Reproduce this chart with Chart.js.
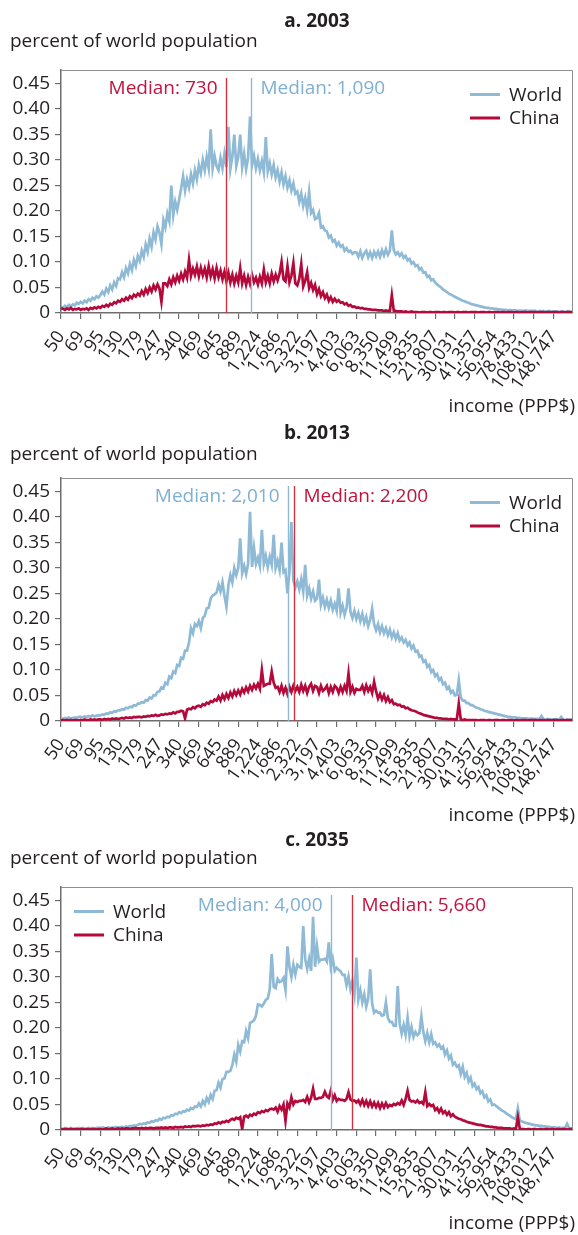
<!DOCTYPE html>
<html>
<head>
<meta charset="utf-8">
<title>Income distribution: World and China, 2003, 2013, 2035</title>
<script src="https://cdn.jsdelivr.net/npm/chart.js@4.4.1/dist/chart.umd.min.js"></script>
<style>
  html, body { margin: 0; padding: 0; background: #fff; }
  #page { position: relative; width: 578px; height: 1235px; overflow: hidden;
          font-family: 'Open Sans', sans-serif; color: #231f20; }
  .panel { position: absolute; left: 0; width: 578px; }
  .panel canvas { position: absolute; left: 0; top: 0; }
  .title { position: absolute; left: 61px; width: 512px; text-align: center;
           font-weight: 700; font-size: 19px; line-height: 20px; }
  .ylab { position: absolute; left: 10px; font-size: 19px; line-height: 20px; white-space: nowrap; }
  .xlab { position: absolute; right: 3px; font-size: 19px; line-height: 20px; white-space: nowrap; }
</style>
</head>
<body>
<div id="page"></div>
<script>
// Income axis labels (PPP$); ten bins per labelled interval
const incomeTicks = [50, 69, 95, 130, 179, 247, 340, 469, 645, 889, 1224, 1686, 2322, 3197,
  4403, 6063, 8350, 11499, 15835, 21807, 30031, 41357, 56954, 78433, 108012, 148747];
const shareTicks = [0, 0.05, 0.10, 0.15, 0.20, 0.25, 0.30, 0.35, 0.40, 0.45];

const panelTitles = ['a. 2003', 'b. 2013', 'c. 2035'];
const seriesNames = ['World', 'China'];

// Share of world population per income bin (one row per labelled interval), 2003
const world2003 = [
  0.012,0.010,0.014,0.011,0.016,0.013,0.017,0.015,0.020,0.018,
  0.022,0.019,0.024,0.021,0.027,0.024,0.030,0.027,0.033,0.030,
  0.035,0.042,0.036,0.048,0.041,0.054,0.046,0.060,0.053,0.068,
  0.066,0.080,0.070,0.088,0.078,0.096,0.084,0.104,0.092,0.112,
  0.102,0.122,0.110,0.134,0.120,0.146,0.130,0.158,0.144,0.170,
  0.158,0.135,0.182,0.168,0.195,0.180,0.250,0.192,0.218,0.202,
  0.222,0.244,0.268,0.240,0.262,0.246,0.272,0.254,0.280,0.262,
  0.290,0.274,0.300,0.280,0.306,0.284,0.360,0.284,0.308,0.288,
  0.280,0.304,0.284,0.312,0.286,0.365,0.282,0.306,0.350,0.288,
  0.306,0.350,0.286,0.312,0.282,0.304,0.385,0.290,0.308,0.284,
  0.302,0.280,0.298,0.276,0.345,0.278,0.294,0.272,0.290,0.266,
  0.280,0.258,0.276,0.252,0.268,0.246,0.260,0.240,0.254,0.234,
  0.238,0.218,0.234,0.210,0.226,0.202,0.237,0.196,0.202,0.184,
  0.186,0.196,0.168,0.170,0.162,0.160,0.148,0.152,0.140,0.143,
  0.132,0.138,0.130,0.133,0.122,0.127,0.120,0.122,0.116,0.119,
  0.119,0.110,0.121,0.108,0.117,0.122,0.109,0.119,0.108,0.120,
  0.111,0.121,0.110,0.123,0.113,0.125,0.114,0.122,0.162,0.123,
  0.115,0.119,0.112,0.117,0.108,0.112,0.103,0.106,0.097,0.100,
  0.092,0.094,0.085,0.088,0.079,0.080,0.071,0.073,0.064,0.066,
  0.060,0.056,0.053,0.050,0.046,0.044,0.041,0.038,0.036,0.034,
  0.032,0.030,0.028,0.026,0.024,0.023,0.021,0.020,0.018,0.017,
  0.016,0.015,0.014,0.013,0.012,0.011,0.010,0.010,0.009,0.009,
  0.008,0.008,0.007,0.007,0.006,0.006,0.006,0.005,0.006,0.005,
  0.005,0.005,0.004,0.005,0.004,0.004,0.005,0.004,0.004,0.004,
  0.004,0.004,0.003,0.004,0.003,0.004,0.003,0.003,0.004,0.003,
  0.003,0.003,0.003,0.002,0.003,0.003,0.002,0.003,0.003,0.002,
  0.003];
const china2003 = [
  0.010,0.008,0.006,0.009,0.007,0.010,0.006,0.008,0.007,0.009,
  0.006,0.008,0.007,0.009,0.006,0.010,0.008,0.011,0.009,0.012,
  0.010,0.014,0.012,0.016,0.013,0.018,0.016,0.021,0.019,0.024,
  0.022,0.027,0.024,0.030,0.026,0.033,0.029,0.036,0.032,0.038,
  0.034,0.043,0.036,0.047,0.039,0.050,0.042,0.054,0.046,0.056,
  0.048,0.022,0.058,0.058,0.053,0.066,0.056,0.070,0.060,0.073,
  0.063,0.077,0.066,0.081,0.069,0.104,0.073,0.087,0.075,0.091,
  0.072,0.089,0.074,0.087,0.070,0.092,0.072,0.086,0.068,0.088,
  0.070,0.083,0.066,0.081,0.062,0.079,0.060,0.075,0.058,0.073,
  0.060,0.088,0.058,0.073,0.055,0.071,0.057,0.075,0.060,0.069,
  0.056,0.071,0.058,0.085,0.060,0.073,0.058,0.077,0.062,0.075,
  0.064,0.077,0.100,0.066,0.062,0.092,0.060,0.073,0.098,0.058,
  0.054,0.067,0.096,0.052,0.063,0.080,0.049,0.059,0.045,0.055,
  0.037,0.047,0.033,0.041,0.029,0.036,0.024,0.031,0.022,0.028,
  0.022,0.025,0.020,0.021,0.017,0.019,0.014,0.016,0.012,0.013,
  0.010,0.011,0.009,0.010,0.008,0.008,0.007,0.007,0.006,0.006,
  0.006,0.005,0.005,0.005,0.004,0.005,0.004,0.004,0.035,0.004,
  0.004,0.003,0.003,0.003,0.002,0.003,0.002,0.002,0.003,0.002,
  0.002,0.002,0.001,0.002,0.002,0.002,0.001,0.002,0.002,0.001,
  0.002,0.002,0.002,0.001,0.002,0.002,0.001,0.002,0.002,0.002,
  0.001,0.002,0.002,0.001,0.002,0.002,0.002,0.001,0.002,0.002,
  0.002,0.002,0.001,0.002,0.002,0.002,0.001,0.002,0.002,0.001,
  0.002,0.002,0.002,0.001,0.002,0.002,0.001,0.002,0.002,0.002,
  0.001,0.002,0.002,0.001,0.002,0.002,0.002,0.001,0.002,0.002,
  0.002,0.002,0.001,0.002,0.002,0.002,0.001,0.002,0.002,0.001,
  0.002,0.002,0.002,0.001,0.002,0.002,0.001,0.002,0.002,0.002,
  0.002];

// 2013
const world2013 = [
  0.005,0.004,0.006,0.005,0.007,0.005,0.006,0.007,0.006,0.008,
  0.008,0.007,0.009,0.008,0.010,0.008,0.011,0.009,0.010,0.011,
  0.011,0.013,0.012,0.015,0.014,0.017,0.016,0.019,0.018,0.021,
  0.021,0.023,0.022,0.026,0.025,0.028,0.027,0.031,0.030,0.034,
  0.034,0.037,0.036,0.041,0.040,0.046,0.044,0.051,0.050,0.057,
  0.058,0.066,0.064,0.075,0.072,0.087,0.084,0.097,0.094,0.110,
  0.108,0.124,0.122,0.138,0.138,0.154,0.182,0.172,0.190,0.186,
  0.196,0.182,0.202,0.206,0.221,0.222,0.240,0.246,0.248,0.252,
  0.267,0.254,0.272,0.246,0.224,0.266,0.286,0.272,0.300,0.286,
  0.300,0.358,0.290,0.304,0.288,0.308,0.410,0.302,0.340,0.308,
  0.320,0.304,0.375,0.308,0.324,0.302,0.322,0.306,0.365,0.300,
  0.314,0.296,0.350,0.292,0.296,0.250,0.292,0.390,0.276,0.262,
  0.274,0.258,0.278,0.254,0.306,0.246,0.260,0.240,0.254,0.236,
  0.240,0.277,0.228,0.242,0.224,0.238,0.222,0.236,0.218,0.230,
  0.216,0.260,0.212,0.226,0.208,0.222,0.260,0.214,0.202,0.216,
  0.200,0.212,0.196,0.210,0.192,0.204,0.186,0.198,0.220,0.190,
  0.178,0.190,0.174,0.186,0.172,0.182,0.168,0.179,0.164,0.174,
  0.161,0.172,0.158,0.164,0.154,0.159,0.148,0.154,0.142,0.148,
  0.136,0.138,0.126,0.128,0.116,0.119,0.106,0.110,0.096,0.100,
  0.088,0.092,0.080,0.084,0.072,0.075,0.063,0.067,0.055,0.059,
  0.050,0.051,0.080,0.046,0.040,0.040,0.035,0.035,0.031,0.031,
  0.028,0.026,0.025,0.023,0.022,0.020,0.019,0.018,0.017,0.016,
  0.015,0.014,0.013,0.012,0.011,0.010,0.009,0.008,0.008,0.007,
  0.007,0.007,0.006,0.006,0.005,0.005,0.005,0.005,0.004,0.005,
  0.004,0.004,0.004,0.004,0.010,0.004,0.003,0.004,0.003,0.003,
  0.003,0.003,0.003,0.003,0.008,0.003,0.002,0.003,0.002,0.003,
  0.002];
const china2013 = [
  0.001,0.002,0.001,0.002,0.001,0.002,0.001,0.002,0.002,0.001,
  0.002,0.001,0.003,0.002,0.002,0.003,0.002,0.003,0.002,0.003,
  0.003,0.002,0.004,0.003,0.004,0.003,0.005,0.004,0.005,0.004,
  0.005,0.006,0.005,0.007,0.006,0.007,0.006,0.008,0.007,0.008,
  0.008,0.007,0.009,0.008,0.010,0.009,0.011,0.010,0.012,0.010,
  0.011,0.013,0.012,0.014,0.013,0.015,0.014,0.017,0.015,0.018,
  0.018,0.020,0.019,0.005,0.022,0.024,0.023,0.027,0.025,0.029,
  0.030,0.028,0.033,0.031,0.036,0.034,0.039,0.037,0.042,0.040,
  0.048,0.040,0.051,0.043,0.053,0.045,0.056,0.048,0.059,0.051,
  0.060,0.052,0.063,0.056,0.066,0.058,0.069,0.061,0.071,0.064,
  0.073,0.063,0.100,0.069,0.071,0.073,0.073,0.097,0.075,0.065,
  0.067,0.057,0.069,0.055,0.065,0.053,0.067,0.057,0.069,0.059,
  0.067,0.057,0.071,0.059,0.069,0.055,0.067,0.073,0.059,0.069,
  0.067,0.055,0.069,0.059,0.063,0.069,0.055,0.067,0.057,0.069,
  0.065,0.055,0.067,0.057,0.069,0.059,0.093,0.057,0.067,0.055,
  0.063,0.061,0.061,0.069,0.057,0.070,0.059,0.067,0.055,0.077,
  0.058,0.044,0.053,0.042,0.051,0.039,0.047,0.037,0.041,0.033,
  0.034,0.031,0.032,0.028,0.029,0.025,0.026,0.023,0.021,0.020,
  0.019,0.017,0.015,0.014,0.012,0.011,0.010,0.009,0.008,0.007,
  0.006,0.006,0.005,0.005,0.004,0.004,0.004,0.003,0.004,0.003,
  0.003,0.003,0.034,0.003,0.002,0.003,0.002,0.002,0.002,0.002,
  0.002,0.002,0.001,0.002,0.002,0.002,0.001,0.002,0.002,0.001,
  0.002,0.002,0.002,0.001,0.002,0.002,0.001,0.002,0.002,0.002,
  0.001,0.002,0.002,0.001,0.002,0.002,0.002,0.001,0.002,0.002,
  0.002,0.002,0.001,0.002,0.002,0.002,0.001,0.002,0.002,0.001,
  0.002,0.002,0.002,0.001,0.002,0.002,0.001,0.002,0.002,0.002,
  0.002];

// 2035
const world2035 = [
  0.003,0.002,0.004,0.003,0.002,0.004,0.003,0.002,0.003,0.004,
  0.003,0.004,0.003,0.002,0.004,0.003,0.004,0.003,0.004,0.004,
  0.004,0.005,0.004,0.003,0.005,0.004,0.005,0.004,0.006,0.005,
  0.005,0.006,0.005,0.007,0.006,0.008,0.007,0.009,0.008,0.010,
  0.012,0.011,0.013,0.012,0.015,0.014,0.017,0.016,0.019,0.018,
  0.022,0.020,0.024,0.023,0.026,0.025,0.029,0.028,0.032,0.031,
  0.035,0.033,0.037,0.036,0.040,0.038,0.043,0.041,0.046,0.045,
  0.052,0.046,0.057,0.050,0.063,0.055,0.069,0.061,0.077,0.078,
  0.093,0.083,0.100,0.101,0.114,0.114,0.116,0.127,0.148,0.134,
  0.167,0.154,0.174,0.172,0.194,0.180,0.210,0.212,0.215,0.224,
  0.246,0.245,0.242,0.248,0.255,0.258,0.276,0.345,0.281,0.278,
  0.296,0.290,0.292,0.298,0.275,0.360,0.320,0.300,0.324,0.305,
  0.324,0.320,0.318,0.400,0.335,0.316,0.336,0.312,0.418,0.320,
  0.360,0.330,0.334,0.334,0.336,0.330,0.368,0.320,0.336,0.312,
  0.318,0.314,0.311,0.304,0.304,0.284,0.301,0.276,0.292,0.266,
  0.338,0.256,0.274,0.250,0.266,0.242,0.258,0.315,0.248,0.230,
  0.234,0.230,0.230,0.224,0.226,0.250,0.220,0.212,0.212,0.204,
  0.204,0.282,0.208,0.189,0.206,0.187,0.220,0.184,0.202,0.182,
  0.192,0.186,0.190,0.223,0.192,0.174,0.190,0.172,0.188,0.169,
  0.172,0.164,0.168,0.160,0.164,0.148,0.156,0.140,0.146,0.128,
  0.132,0.124,0.127,0.110,0.124,0.104,0.112,0.095,0.103,0.086,
  0.091,0.080,0.084,0.072,0.076,0.064,0.068,0.056,0.060,0.049,
  0.050,0.047,0.044,0.041,0.038,0.036,0.033,0.030,0.028,0.025,
  0.023,0.021,0.042,0.018,0.017,0.015,0.014,0.013,0.012,0.011,
  0.010,0.009,0.009,0.008,0.008,0.007,0.007,0.006,0.006,0.005,
  0.005,0.005,0.004,0.005,0.004,0.004,0.004,0.012,0.004,0.003,
  0.003];
const china2035 = [
  0.002,0.001,0.002,0.002,0.001,0.002,0.001,0.002,0.002,0.001,
  0.002,0.002,0.001,0.002,0.002,0.001,0.002,0.002,0.001,0.002,
  0.002,0.001,0.002,0.003,0.002,0.002,0.003,0.002,0.002,0.003,
  0.002,0.003,0.002,0.003,0.003,0.002,0.003,0.003,0.004,0.003,
  0.003,0.004,0.003,0.004,0.003,0.004,0.004,0.003,0.004,0.004,
  0.004,0.005,0.004,0.005,0.004,0.005,0.005,0.004,0.006,0.005,
  0.005,0.006,0.005,0.007,0.006,0.007,0.006,0.008,0.007,0.008,
  0.008,0.007,0.009,0.008,0.010,0.009,0.011,0.010,0.013,0.012,
  0.015,0.013,0.016,0.015,0.018,0.016,0.020,0.022,0.020,0.024,
  0.022,0.025,0.002,0.026,0.028,0.025,0.030,0.028,0.032,0.030,
  0.035,0.033,0.037,0.035,0.039,0.037,0.041,0.042,0.040,0.044,
  0.036,0.047,0.040,0.050,0.018,0.052,0.044,0.064,0.050,0.057,
  0.055,0.057,0.057,0.059,0.055,0.065,0.054,0.063,0.081,0.061,
  0.061,0.063,0.063,0.065,0.075,0.066,0.063,0.077,0.059,0.068,
  0.057,0.061,0.059,0.059,0.057,0.061,0.074,0.060,0.057,0.058,
  0.054,0.058,0.050,0.059,0.049,0.057,0.047,0.056,0.046,0.054,
  0.045,0.053,0.043,0.052,0.044,0.053,0.045,0.049,0.047,0.051,
  0.049,0.053,0.050,0.058,0.049,0.061,0.077,0.059,0.056,0.057,
  0.054,0.058,0.053,0.055,0.051,0.074,0.047,0.051,0.047,0.049,
  0.039,0.043,0.035,0.042,0.033,0.037,0.030,0.035,0.027,0.031,
  0.026,0.024,0.022,0.021,0.019,0.018,0.016,0.015,0.014,0.013,
  0.012,0.011,0.010,0.010,0.009,0.008,0.007,0.007,0.006,0.006,
  0.005,0.005,0.004,0.004,0.004,0.003,0.003,0.003,0.003,0.002,
  0.003,0.002,0.025,0.002,0.002,0.002,0.001,0.002,0.002,0.001,
  0.002,0.002,0.001,0.002,0.002,0.001,0.002,0.002,0.001,0.002,
  0.002,0.001,0.002,0.002,0.001,0.002,0.002,0.001,0.002,0.002,
  0.002];

// Median incomes (PPP$)
const worldMedians = [1090, 2010, 4000];
const chinaMedians = [730, 2200, 5660];

// ---- presentation ----
const BLUE = '#8fbad6';
const RED = '#b3093b';
const BLUE_TEXT = '#7eb0d3';
const RED_TEXT = '#c4123f';
const RED_RULE = '#d1323f';
const INK = '#231f20';
const AXIS = '#6e6e6e';
const FONT = "'Open Sans', sans-serif";

Chart.defaults.font.family = FONT;
Chart.defaults.color = INK;

// Bins sit on a log grid between the labels, running one interval past the last label
const BINS_PER_TICK = 10;
const lastTick = incomeTicks[incomeTicks.length - 1];
const binSpan = (incomeTicks.length - 1) * BINS_PER_TICK;
const binIncome = world2003.map((_, i) => incomeTicks[0] * Math.pow(lastTick / incomeTicks[0], i / binSpan));
const X_MAX = binIncome[binIncome.length - 1];

const overlay = {
  id: 'panelOverlay',
  afterDatasetsDraw(chart, args, o) {
    const { ctx, chartArea: a, scales } = chart;
    const x = scales.x;
    ctx.save();
    // top and right edges of the frame
    ctx.strokeStyle = '#8e8e8e';
    ctx.lineWidth = 1;
    ctx.beginPath();
    ctx.moveTo(a.left, a.top + 0.5);
    ctx.lineTo(a.right - 0.5, a.top + 0.5);
    ctx.lineTo(a.right - 0.5, a.bottom);
    ctx.stroke();

    // median rules with labels: lower median labelled on its left, higher on its right
    ctx.font = '19px ' + FONT;
    ctx.textBaseline = 'alphabetic';
    const meds = o.medians.slice().sort((p, q) => p.value - q.value);
    meds.forEach((m, k) => {
      const px = Math.round(x.getPixelForValue(m.value)) + 0.5;
      ctx.strokeStyle = m.rule;
      ctx.lineWidth = 1.4;
      ctx.beginPath();
      ctx.moveTo(px, a.top + 8);
      ctx.lineTo(px, a.bottom);
      ctx.stroke();
      ctx.fillStyle = m.text;
      ctx.textAlign = k === 0 ? 'right' : 'left';
      ctx.fillText('Median: ' + m.value.toLocaleString('en-US'), px + (k === 0 ? -9 : 9), a.top + 24);
    });

    // legend
    const lx = o.legendSide === 'left' ? a.left + 13 : a.right - 103;
    chart.data.datasets.forEach((ds, k) => {
      const ly = a.top + 24.5 + k * 23.5;
      ctx.strokeStyle = ds.borderColor;
      ctx.lineWidth = 3;
      ctx.beginPath();
      ctx.moveTo(lx, ly);
      ctx.lineTo(lx + 30, ly);
      ctx.stroke();
      ctx.fillStyle = INK;
      ctx.textAlign = 'left';
      ctx.fillText(ds.label, lx + 39, ly + 6);
    });
    ctx.restore();
  }
};

const panels = [
  { title: panelTitles[0], world: world2003, china: china2003, wMed: worldMedians[0], cMed: chinaMedians[0],
    top: 0, height: 408, legendSide: 'right', titleTop: 10, ylabTop: 30, xlabTop: 395 },
  { title: panelTitles[1], world: world2013, china: china2013, wMed: worldMedians[1], cMed: chinaMedians[1],
    top: 408, height: 408, legendSide: 'right', titleTop: 14, ylabTop: 35, xlabTop: 396 },
  { title: panelTitles[2], world: world2035, china: china2035, wMed: worldMedians[2], cMed: chinaMedians[2],
    top: 817, height: 418, legendSide: 'left', titleTop: 12, ylabTop: 30, xlabTop: 395 }
];

const PLOT_TOP = 70, PLOT_BOTTOM = 313, PLOT_LEFT = 61, PLOT_RIGHT = 573;
const Y_MAX = (PLOT_BOTTOM - PLOT_TOP) / ((PLOT_BOTTOM - 83.5) / 0.45);

const page = document.getElementById('page');
panels.forEach(p => {
  const box = document.createElement('div');
  box.className = 'panel';
  box.style.top = p.top + 'px';
  box.style.height = p.height + 'px';
  page.appendChild(box);

  const cv = document.createElement('canvas');
  cv.width = 578; cv.height = p.height;
  cv.style.width = '578px'; cv.style.height = p.height + 'px';
  box.appendChild(cv);

  const t = document.createElement('div');
  t.className = 'title'; t.style.top = p.titleTop + 'px'; t.textContent = p.title;
  box.appendChild(t);
  const yl = document.createElement('div');
  yl.className = 'ylab'; yl.style.top = p.ylabTop + 'px'; yl.textContent = 'percent of world population';
  box.appendChild(yl);
  const xl = document.createElement('div');
  xl.className = 'xlab'; xl.style.top = p.xlabTop + 'px'; xl.textContent = 'income (PPP$)';
  box.appendChild(xl);

  const toPoints = arr => arr.map((v, i) => ({ x: binIncome[i], y: v }));

  new Chart(cv, {
    type: 'line',
    data: {
      datasets: [
        { label: seriesNames[0], data: toPoints(p.world), borderColor: BLUE, borderWidth: 2.7,
          pointRadius: 0, tension: 0, order: 2 },
        { label: seriesNames[1], data: toPoints(p.china), borderColor: RED, borderWidth: 2.7,
          pointRadius: 0, tension: 0, order: 1 }
      ]
    },
    options: {
      responsive: false,
      animation: false,
      devicePixelRatio: 1,
      parsing: false,
      layout: { padding: { left: 0, right: 578 - PLOT_RIGHT, top: PLOT_TOP, bottom: 0 } },
      plugins: {
        legend: { display: false },
        tooltip: { enabled: false },
        panelOverlay: {
          legendSide: p.legendSide,
          medians: [
            { value: p.wMed, rule: BLUE, text: BLUE_TEXT },
            { value: p.cMed, rule: RED_RULE, text: RED_TEXT }
          ]
        }
      },
      scales: {
        x: {
          type: 'logarithmic',
          min: incomeTicks[0],
          max: X_MAX,
          afterBuildTicks: s => { s.ticks = incomeTicks.map(v => ({ value: v })); },
          afterFit: s => {
            s.height = p.height - PLOT_BOTTOM;
            s.paddingLeft = 0;
            s.paddingRight = 0;
          },
          ticks: {
            autoSkip: false, minRotation: 55, maxRotation: 55, padding: 8,
            font: { size: 18 }, color: INK,
            callback: v => Number(v).toLocaleString('en-US')
          },
          grid: { drawOnChartArea: false, drawTicks: true, tickLength: 6, color: AXIS, lineWidth: 1.2 },
          border: { display: true, color: AXIS, width: 1.5 }
        },
        y: {
          min: 0,
          max: Y_MAX,
          afterBuildTicks: s => { s.ticks = shareTicks.map(v => ({ value: v })); },
          afterFit: s => { s.width = PLOT_LEFT; },
          ticks: {
            padding: 5, font: { size: 19 }, color: INK,
            callback: v => (v === 0 ? '0' : Number(v).toFixed(2))
          },
          grid: { drawOnChartArea: false, drawTicks: true, tickLength: 6, color: AXIS, lineWidth: 1.2 },
          border: { display: true, color: AXIS, width: 1.5 }
        }
      }
    },
    plugins: [overlay]
  });
});
</script>
</body>
</html>
